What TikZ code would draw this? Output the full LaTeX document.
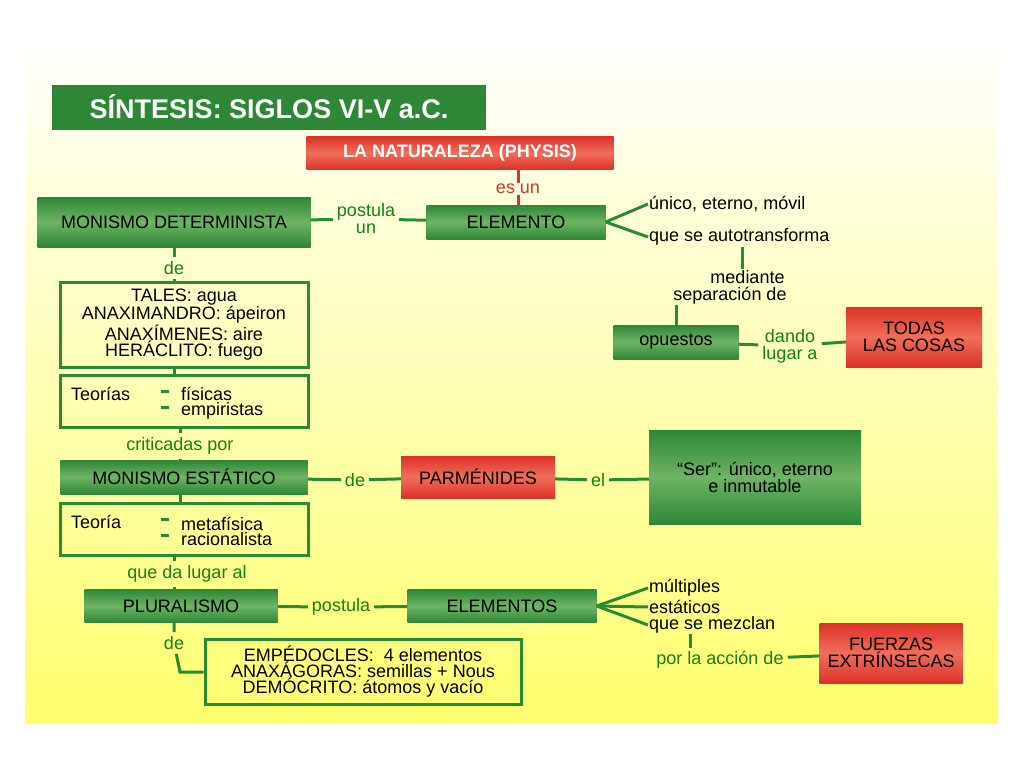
\documentclass[tikz,border=0pt]{standalone}
\usepackage{fontspec}
\setmainfont{Liberation Sans}
\usepackage{tikz}
\definecolor{dkgreen}{RGB}{40,140,50}
\definecolor{boxgreen}{RGB}{45,135,55}
\definecolor{litegreen}{RGB}{110,180,100}
\definecolor{lblgreen}{RGB}{20,130,20}
\definecolor{boxred}{RGB}{220,50,40}
\definecolor{litered}{RGB}{240,110,90}
\definecolor{paleyel}{RGB}{255,255,110}
\tikzset{
  BaseNode/.style = {align=center, inner sep=2pt, text centered, font=\fontsize{18}{17}\selectfont},
  GreenNode/.style = {BaseNode, rectangle, top color=boxgreen, bottom color=boxgreen, middle color=litegreen},
  RedNode/.style = {BaseNode, rectangle, top color=boxred, bottom color=boxred, middle color=litered},
  FrameNode/.style = {BaseNode, rectangle, draw=dkgreen, line width=3pt},
  LabelNode/.style = {BaseNode, text=lblgreen, inner sep=4pt},
  PlainNode/.style = {BaseNode, align=left, inner sep=1pt},
  Link/.style = {draw=dkgreen, line width=3pt},
  Dash/.style = {draw=dkgreen, line width=3pt},
}
\begin{document}
\begin{tikzpicture}[x=1pt,y=-1pt]
    \useasboundingbox (0,0) rectangle (1024,768);
    \shade[top color=white, bottom color=paleyel] (25,30) rectangle (998,723);
    % title
    \node [BaseNode, fill=boxgreen, text=white, minimum width=434, minimum height=45,
           font=\fontsize{27}{27}\selectfont\bfseries] (titulo) at (269,107) {SÍNTESIS: SIGLOS VI-V a.C.};
    \node [RedNode, text=white, minimum width=307, minimum height=33, font=\fontsize{18}{17}\selectfont\bfseries] (physis) at (460,153) {LA NATURALEZA (PHYSIS)};
    \node [BaseNode, text=boxred, inner sep=1pt] (esun) at (518,189) {es un};
    % monismo determinista
    \node [GreenNode, minimum width=273, minimum height=50] (mdet) at (174,222) {MONISMO DETERMINISTA};
    \node [LabelNode] (postulaun) at (366,219) {postula\\un};
    \node [GreenNode, minimum width=179, minimum height=34] (elem) at (516,222) {ELEMENTO};
    \node [PlainNode, anchor=west] (unico) at (648,204) {único, eterno, móvil};
    \node [PlainNode, anchor=west] (autotr) at (648,237) {que se autotransforma};
    \node [BaseNode, inner sep=1pt] (mediante) at (730,287) {\ \ \ \ \ \ \ mediante\\separación de};
    \node [GreenNode, minimum width=125, minimum height=34] (opuestos) at (676,342) {opuestos};
    \node [LabelNode] (dando) at (790,346) {dando\\lugar a};
    \node [RedNode, minimum width=136, minimum height=60] (todas) at (914,337) {TODAS\\LAS COSAS};
    \node [LabelNode] (de1) at (174,268) {de};
    \node [FrameNode, minimum width=248, minimum height=85, font=\fontsize{18}{14}\selectfont] (tales) at (184,325)
      {TALES: agua\\ANAXIMANDRO: ápeiron\\ANAXÍMENES: aire\\HERÁCLITO: fuego};
    \node [FrameNode, minimum width=248, minimum height=52] (teorias) at (184,401) {};
    \node [PlainNode, anchor=west] at (70,394) {Teorías};
    \node [PlainNode, anchor=west, font=\fontsize{18}{15}\selectfont] at (180,403) {físicas\\empiristas};
    \draw [Dash] (161,391) -- (169,391);
    \draw [Dash] (161,407) -- (169,407);
    % monismo estatico
    \node [LabelNode] (criticadas) at (180,446) {criticadas por};
    \node [GreenNode, minimum width=247, minimum height=34] (mest) at (184,477) {MONISMO ESTÁTICO};
    \node [LabelNode] (de2) at (355,480) {de};
    \node [RedNode, minimum width=154, minimum height=42] (parmenides) at (478,477) {PARMÉNIDES};
    \node [LabelNode] (el) at (598,480) {el};
    \node [GreenNode, minimum width=212, minimum height=94] (ser) at (755,477) {“Ser”: único, eterno\\e inmutable};
    \node [FrameNode, minimum width=248, minimum height=52] (teoria) at (184,529) {};
    \node [PlainNode, anchor=west] at (70,522) {Teoría};
    \node [PlainNode, anchor=west, font=\fontsize{18}{15}\selectfont] at (180,531) {metafísica\\racionalista};
    \draw [Dash] (161,519) -- (169,519);
    \draw [Dash] (161,535) -- (169,535);
    % pluralismo
    \node [LabelNode] (dalugar) at (187,574) {que da lugar al};
    \node [GreenNode, minimum width=193, minimum height=33] (plural) at (181,606) {PLURALISMO};
    \node [LabelNode] (postula) at (341,607) {postula};
    \node [GreenNode, minimum width=189, minimum height=33] (elems) at (502,606) {ELEMENTOS};
    \node [PlainNode, anchor=west] (multiples) at (648,588) {múltiples};
    \node [PlainNode, anchor=west] (estaticos) at (648,607) {estáticos};
    \node [PlainNode, anchor=west] (mezclan) at (648,625) {que se mezclan};
    \node [LabelNode] (accion) at (720,660) {por la acción de};
    \node [RedNode, minimum width=143, minimum height=60] (fuerzas) at (891,653) {FUERZAS\\EXTRÍNSECAS};
    \node [LabelNode] (de3) at (174,643) {de};
    \node [FrameNode, minimum width=316, minimum height=65, font=\fontsize{18}{16}\selectfont] (empedocles) at (363,672)
      {EMPÉDOCLES:\ \ 4 elementos\\ANAXÁGORAS: semillas + Nous\\DEMÓCRITO: átomos y vacío};
    \coordinate (bend) at (180,672);
    \coordinate (mezpie) at (690,634);
    \coordinate (accpie) at (690,648);
    % connectors
    \draw [Link, draw=boxred] (physis.south -| esun) -- (esun) -- (esun |- elem.north);
    \draw [Link] (mdet) -- (postulaun) -- (elem);
    \draw [Link] (elem.east) -- (unico.west);
    \draw [Link] (elem.east) -- (autotr.west);
    \draw [Link] (autotr.south -| 742,0) -- (mediante.north -| 742,0);
    \draw [Link] (mediante.south -| opuestos) -- (opuestos);
    \draw [Link] (opuestos) -- (dando) -- (todas);
    \draw [Link] (mdet.south -| de1) -- (de1) -- (de1 |- tales.north);
    \draw [Link] (tales.south -| de1) -- (de1 |- teorias.north);
    \draw [Link] (teorias.south -| criticadas) -- (criticadas) -- (criticadas |- mest.north);
    \draw [Link] (mest) -- (de2) -- (parmenides) -- (el) -- (ser);
    \draw [Link] (mest.south -| criticadas) -- (criticadas |- teoria.north);
    \draw [Link] (teoria.south -| de1) -- (dalugar.north -| de1);
    \draw [Link] (dalugar.south -| de1) -- (de1 |- plural.north);
    \draw [Link] (plural) -- (postula) -- (elems);
    \draw [Link] (elems.east) -- (multiples.west);
    \draw [Link] (elems.east) -- (estaticos.west);
    \draw [Link] (elems.east) -- (mezclan.west);
    \draw [Link] (mezpie) -- (accpie);
    \draw [Link] (accion) -- (fuerzas);
    \draw [Link] (plural.south -| de3) -- (de3) -- (bend) -- (empedocles);
\end{tikzpicture}
\end{document}
